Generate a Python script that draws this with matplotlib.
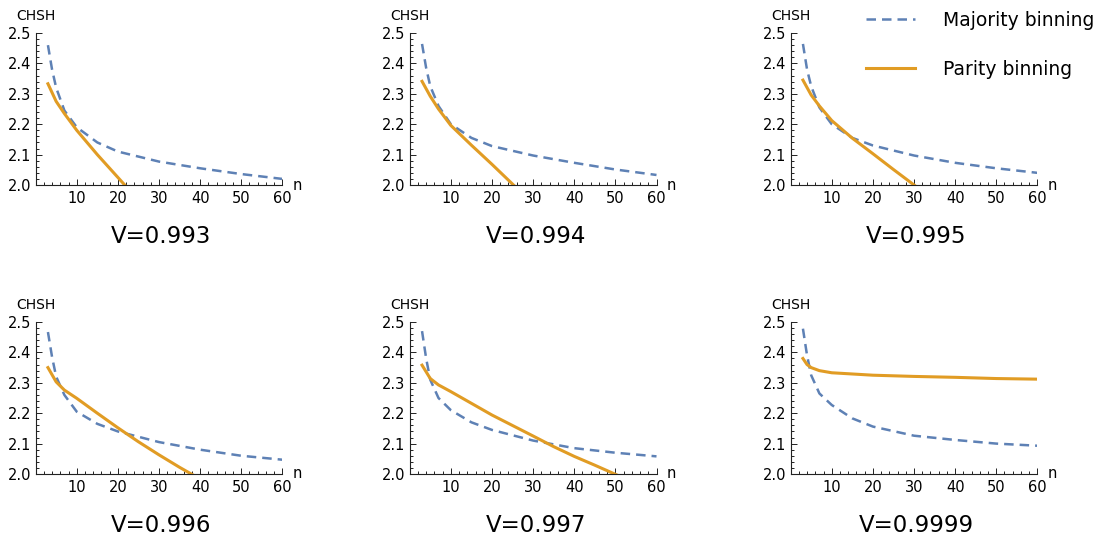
import numpy as np
import matplotlib
matplotlib.use("Agg")
import matplotlib.pyplot as plt
from matplotlib.ticker import MultipleLocator, FixedLocator

# --- data ---
visibilities = ["V=0.993", "V=0.994", "V=0.995", "V=0.996", "V=0.997", "V=0.9999"]

n_majority = [3, 4, 5, 7, 10, 15, 20, 30, 40, 50, 60]
majority_993 = [2.46, 2.38, 2.32, 2.245, 2.19, 2.14, 2.11, 2.077, 2.055, 2.036, 2.02]
majority_994 = [2.464, 2.385, 2.325, 2.26, 2.20, 2.155, 2.128, 2.097, 2.073, 2.051, 2.033]
majority_995 = [2.464, 2.38, 2.325, 2.255, 2.20, 2.155, 2.13, 2.097, 2.073, 2.055, 2.04]
majority_996 = [2.467, 2.385, 2.32, 2.26, 2.205, 2.165, 2.14, 2.105, 2.08, 2.06, 2.047]
majority_997 = [2.47, 2.38, 2.31, 2.25, 2.21, 2.17, 2.145, 2.11, 2.085, 2.07, 2.058]
majority_9999 = [2.478, 2.39, 2.325, 2.265, 2.227, 2.183, 2.156, 2.126, 2.112, 2.10, 2.093]

n_parity_993 = [3, 5, 7, 10, 15, 20, 22]
parity_993 = [2.333, 2.275, 2.235, 2.18, 2.10, 2.025, 1.995]
n_parity_994 = [3, 5, 7, 10, 15, 20, 26]
parity_994 = [2.341, 2.292, 2.25, 2.196, 2.131, 2.068, 1.99]
n_parity_995 = [3, 5, 7, 10, 15, 20, 25, 31]
parity_995 = [2.345, 2.296, 2.26, 2.212, 2.154, 2.103, 2.051, 1.99]
n_parity_996 = [3, 5, 7, 10, 15, 20, 25, 30, 35, 38.5]
parity_996 = [2.35, 2.303, 2.276, 2.249, 2.200, 2.152, 2.106, 2.063, 2.022, 1.995]
n_parity_997 = [3, 5, 7, 10, 20, 30, 35, 40, 45, 51]
parity_997 = [2.358, 2.314, 2.293, 2.271, 2.194, 2.125, 2.09, 2.058, 2.029, 1.993]
n_parity_9999 = [3, 4, 5, 7, 10, 20, 30, 40, 50, 60]
parity_9999 = [2.38, 2.36, 2.35, 2.34, 2.333, 2.325, 2.321, 2.318, 2.314, 2.312]

majority_all = [majority_993, majority_994, majority_995,
                majority_996, majority_997, majority_9999]
parity_n_all = [n_parity_993, n_parity_994, n_parity_995,
                n_parity_996, n_parity_997, n_parity_9999]
parity_all = [parity_993, parity_994, parity_995,
              parity_996, parity_997, parity_9999]

x_ticks = [10, 20, 30, 40, 50, 60]
y_ticks = [2.0, 2.1, 2.2, 2.3, 2.4, 2.5]

BLUE = "#5E81B5"
ORANGE = "#E19C24"

W, H = 1104, 541
fig = plt.figure(figsize=(W / 100, H / 100), dpi=100)

# panel boxes in pixels
lefts = [35.6, 409.7, 790.6]
width = 246.8
tops = [33, 322]
height = 152

for k in range(6):
    row, col = divmod(k, 3)
    left = lefts[col]
    top = tops[row]
    ax = fig.add_axes([left / W, 1 - (top + height) / H, width / W, height / H])

    ax.plot(n_majority, majority_all[k], color=BLUE, lw=1.8, dashes=(3.8, 2.4),
            label="Majority binning")
    ax.plot(parity_n_all[k], parity_all[k], color=ORANGE, lw=2.2,
            label="Parity binning")

    ax.set_xlim(0, 60)
    ax.set_ylim(2.0, 2.5)
    ax.spines["top"].set_visible(False)
    ax.spines["right"].set_visible(False)
    for s in ("left", "bottom"):
        ax.spines[s].set_linewidth(0.8)
        ax.spines[s].set_color("#222222")

    ax.xaxis.set_major_locator(FixedLocator(x_ticks))
    ax.xaxis.set_minor_locator(MultipleLocator(2))
    ax.yaxis.set_major_locator(FixedLocator(y_ticks))
    ax.yaxis.set_minor_locator(MultipleLocator(0.02))
    ax.set_yticklabels([f"{v:.1f}" for v in y_ticks])
    ax.tick_params(which="both", direction="in", color="#222222", width=0.7)
    ax.tick_params(which="major", length=4, labelsize=10.5)
    ax.tick_params(which="minor", length=2)
    ax.tick_params(axis="x", pad=4)
    ax.tick_params(axis="y", pad=3)

    ax.text(0, 1.115, "CHSH", transform=ax.transAxes, ha="center", va="center",
            fontsize=10)
    ax.text(1.04, 0.0, "n", transform=ax.transAxes, ha="left", va="center",
            fontsize=10.5)
    ax.text(0.51, -0.34, visibilities[k], transform=ax.transAxes,
            ha="center", va="center", fontsize=16.5)

    if k == 2:
        handles, labels = ax.get_legend_handles_labels()

fig.legend(handles, labels, loc="upper left",
           bbox_to_anchor=(866 / W, 1 - 11 / H), frameon=False,
           fontsize=13.5, handlelength=2.6, handletextpad=1.5,
           labelspacing=1.6, borderpad=0, borderaxespad=0)

fig.savefig("out.png", dpi=100)
